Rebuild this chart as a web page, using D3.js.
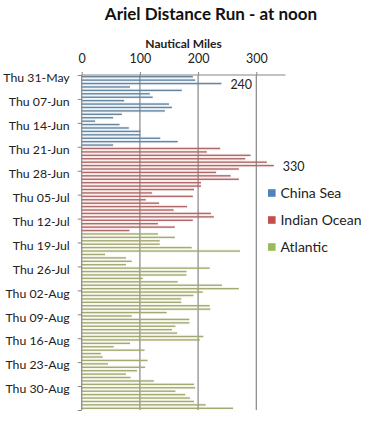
<!DOCTYPE html>
<html>
<head>
<meta charset="utf-8">
<script src="https://cdn.jsdelivr.net/npm/d3@7"></script>
<style>
  body { margin: 0; background: #fff; }
  svg { display: block; font-family: Lato, "Open Sans", sans-serif; }
</style>
</head>
<body>
<svg id="chart" width="371" height="424"></svg>
<script>
// noon-to-noon runs, nautical miles (1866)
const chinaSeaStart = '1866-05-31';
const chinaSea = [191, 195, 240, 83, 172, 117, 122, 73, 150, 155, 143, 69, 54, 23,
  65, 81, 101, 101, 135, 165, 54];
const indianOceanStart = '1866-06-21';
const indianOcean = [238, 215, 290, 281, 318, 330, 270, 231, 256, 270, 205, 205, 193,
  121, 191, 110, 133, 181, 158, 222, 227, 191, 131, 160, 82];
const atlanticStart = '1866-07-16';
const atlantic = [131, 160, 134, 134, 189, 272, 40, 76, 86, 76, 220, 180, 180, 105,
  165, 241, 270, 208, 192, 171, 171, 220, 221, 146, 86, 185, 185, 161, 155, 164,
  209, 203, 83, 55, 108, 33, 36, 113, 45, 109, 95, 76, 84, 124, 193, 195, 161,
  178, 186, 193, 213, 260];

const seriesNames = ['China Sea', 'Indian Ocean', 'Atlantic'];
const seriesColors = ['#4f81bd', '#c0504d', '#9bbb59'];
const barColors = ['#6686a0', '#b06868', '#a6a872'];
const xTicks = [0, 100, 200, 300];
const dateRange = ['1866-05-31', '1866-09-06'];
const labelledValues = [240, 330]; // data labels shown on the chart

const parse = d3.utcParse('%Y-%m-%d');

// flatten into one row per day
const rows = [];
[[chinaSeaStart, chinaSea], [indianOceanStart, indianOcean], [atlanticStart, atlantic]]
  .forEach(([start, vals], s) => {
    const d0 = parse(start);
    vals.forEach((v, i) => rows.push({ date: d3.utcDay.offset(d0, i), value: v, series: s }));
  });

const svg = d3.select('#chart');
const grey = '#868686';

const x = d3.scaleLinear().domain([0, 350]).range([81.7, 285.4]);
const y = d3.scaleUtc().domain(dateRange.map(parse)).range([75, 410]);
const dayH = y(d3.utcDay.offset(y.domain()[0], 1)) - y.range()[0];

// title
svg.append('text')
  .attr('x', 211).attr('y', 19.5)
  .attr('text-anchor', 'middle')
  .attr('font-size', 17).attr('font-weight', 700)
  .attr('fill', '#111')
  .text('Ariel Distance Run - at noon');

svg.append('text')
  .attr('x', x(175)).attr('y', 47.5)
  .attr('text-anchor', 'middle')
  .attr('font-size', 12).attr('font-weight', 700)
  .attr('fill', '#222')
  .text('Nautical  Miles');

// gridlines
svg.append('g')
  .selectAll('line')
  .data(xTicks.slice(1))
  .join('line')
  .attr('x1', d => x(d)).attr('x2', d => x(d))
  .attr('y1', y.range()[0]).attr('y2', y.range()[1])
  .attr('stroke', grey).attr('stroke-width', 1.2);

// bars
const bars = svg.append('g');
bars.selectAll('rect.tint')
  .data(rows)
  .join('rect')
  .attr('class', 'tint')
  .attr('x', x(0))
  .attr('y', d => y(d.date))
  .attr('width', d => x(d.value) - x(0))
  .attr('height', dayH)
  .attr('fill', d => seriesColors[d.series])
  .attr('opacity', 0.09);
bars.selectAll('rect.bar')
  .data(rows)
  .join('rect')
  .attr('class', 'bar')
  .attr('x', x(0))
  .attr('y', d => y(d.date) + dayH / 2 - 0.7)
  .attr('width', d => x(d.value) - x(0))
  .attr('height', 1.4)
  .attr('fill', d => barColors[d.series]);

// data labels
svg.append('g')
  .selectAll('text')
  .data(rows.filter(d => labelledValues.includes(d.value)))
  .join('text')
  .attr('x', d => x(d.value) + 9)
  .attr('y', d => y(d.date) + dayH / 2 + 5)
  .attr('font-size', 12.5)
  .attr('fill', '#222')
  .text(d => d.value);

// top value axis
const xAxis = svg.append('g')
  .attr('transform', `translate(0,${y.range()[0]})`)
  .call(d3.axisTop(x).tickValues(xTicks).tickSize(3).tickPadding(9));
xAxis.select('.domain').attr('stroke', grey).attr('stroke-width', 1.2).attr('d', `M${x(0)},0H${x.range()[1]}`);
xAxis.selectAll('.tick line').attr('stroke', grey);
xAxis.selectAll('.tick text').attr('font-size', 12.5).attr('fill', '#222').attr('font-family', 'Lato');

// left date axis
const fmt = d3.utcFormat('%a %d-%b');
const lastTick = y.domain()[1];
const yAxis = svg.append('g')
  .attr('transform', `translate(${x(0)},0)`)
  .call(d3.axisLeft(y).ticks(d3.utcThursday).tickSize(4).tickPadding(8)
    .tickFormat(d => +d === +lastTick ? '' : fmt(d)));
yAxis.select('.domain').attr('stroke', grey).attr('stroke-width', 1.2).attr('d', `M0,${y.range()[0]}V${y.range()[1]}`);
yAxis.selectAll('.tick line').attr('stroke', grey);
yAxis.selectAll('.tick text').attr('font-size', 12.3).attr('fill', '#222').attr('font-family', 'Lato')
  .attr('dy', '0.55em');

// legend
const legend = svg.append('g')
  .selectAll('g')
  .data(seriesNames)
  .join('g')
  .attr('transform', (d, i) => `translate(268,${193 + i * 27})`);
legend.append('rect')
  .attr('x', 0).attr('y', -3.8)
  .attr('width', 7.6).attr('height', 7.6)
  .attr('fill', (d, i) => seriesColors[i]);
legend.append('text')
  .attr('x', 12.5).attr('y', 5.2)
  .attr('font-size', 14)
  .attr('fill', '#222')
  .text(d => d);
</script>
</body>
</html>
